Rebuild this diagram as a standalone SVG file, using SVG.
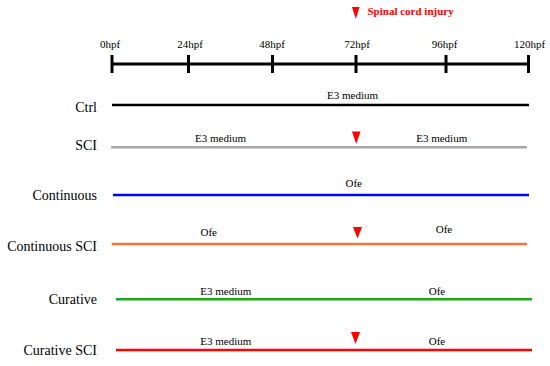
<svg xmlns="http://www.w3.org/2000/svg" width="550" height="366" viewBox="0 0 550 366">
<style>
text{font-family:"Liberation Serif","Times New Roman",serif;fill:#000}
.hpf{font-size:11px;text-anchor:middle}
.lbl{font-size:14px;text-anchor:end}
.med{font-size:11px;text-anchor:middle}
.inj{fill:#ff0000}
.axis{stroke:#000;stroke-width:3;fill:none}
.row{fill:none;stroke-width:2.6}
</style>
<rect width="550" height="366" fill="#fff"/>
<g id="legend">
<polygon class="inj" points="352,7 359.5,7 355.8,19"/>
<text x="367.5" y="15" style="font-size:11px;font-weight:bold;fill:#ff0000">Spinal cord injury</text>
</g>
<g id="timeline">
<line class="axis" x1="112" y1="64" x2="529" y2="64"/>
<line class="axis" x1="112" y1="55" x2="112" y2="73"/>
<line class="axis" x1="188.5" y1="55" x2="188.5" y2="73"/>
<line class="axis" x1="272.5" y1="55" x2="272.5" y2="73"/>
<line class="axis" x1="356" y1="55" x2="356" y2="73"/>
<line class="axis" x1="446" y1="55" x2="446" y2="73"/>
<line class="axis" x1="528.5" y1="55" x2="528.5" y2="73"/>
<text class="hpf" x="110" y="48">0hpf</text>
<text class="hpf" x="190" y="48">24hpf</text>
<text class="hpf" x="272" y="48">48hpf</text>
<text class="hpf" x="357" y="48">72hpf</text>
<text class="hpf" x="444.7" y="48">96hpf</text>
<text class="hpf" x="529.5" y="48">120hpf</text>
</g>
<g id="ctrl">
<text class="lbl" x="97" y="112">Ctrl</text>
<line class="row" x1="112" y1="105" x2="529" y2="105" stroke="#000"/>
<text class="med" x="352.5" y="99">E3 medium</text>
</g>
<g id="sci">
<text class="lbl" x="97" y="150">SCI</text>
<line class="row" x1="111" y1="147.3" x2="527" y2="147.3" stroke="#a8a8a8"/>
<text class="med" x="220.5" y="142">E3 medium</text>
<text class="med" x="441.7" y="142">E3 medium</text>
<polygon class="inj" points="352,131.5 360.5,131.5 356.2,144"/>
</g>
<g id="continuous">
<text class="lbl" x="97" y="200">Continuous</text>
<line class="row" x1="113" y1="195" x2="529" y2="195" stroke="#0000ff" stroke-width="3"/>
<text class="med" x="353.7" y="187">Ofe</text>
</g>
<g id="continuous-sci">
<text class="lbl" x="97" y="251">Continuous SCI</text>
<line class="row" x1="111.7" y1="244" x2="527" y2="244" stroke="#f7743a"/>
<text class="med" x="208.7" y="236">Ofe</text>
<text class="med" x="444" y="233">Ofe</text>
<polygon class="inj" points="353,227 362,227 357.5,238.5"/>
</g>
<g id="curative">
<text class="lbl" x="97" y="304">Curative</text>
<line class="row" x1="116" y1="299.3" x2="532" y2="299.3" stroke="#22a522"/>
<text class="med" x="225.8" y="295">E3 medium</text>
<text class="med" x="437" y="295">Ofe</text>
</g>
<g id="curative-sci">
<text class="lbl" x="97" y="355">Curative SCI</text>
<line class="row" x1="116" y1="350" x2="532" y2="350" stroke="#ff0000"/>
<text class="med" x="225.8" y="344.5">E3 medium</text>
<text class="med" x="437" y="345">Ofe</text>
<polygon class="inj" points="351,332 360,332 355.5,344"/>
</g>
</svg>
